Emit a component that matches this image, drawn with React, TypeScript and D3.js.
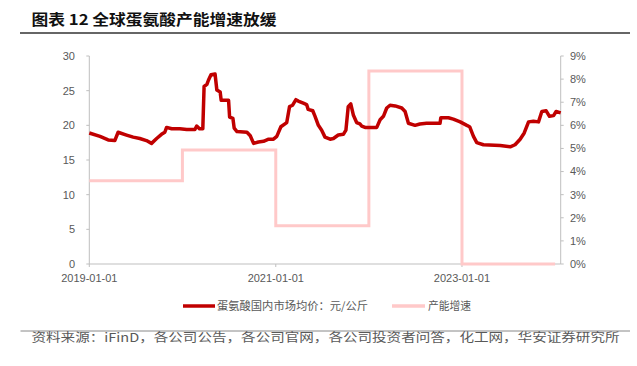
import React from 'react';
import * as d3 from 'd3';

const priceDates = [
  '2019-01-01','2019-02-12','2019-03-16','2019-04-11','2019-04-24','2019-05-27','2019-06-22','2019-07-18',
  '2019-08-13','2019-09-02','2019-09-22','2019-10-11','2019-10-24','2019-10-31','2019-11-20','2019-12-22',
  '2020-01-18','2020-02-19','2020-02-26','2020-03-08','2020-03-21','2020-03-26','2020-04-06','2020-04-12',
  '2020-04-22','2020-05-08','2020-05-15','2020-05-28','2020-06-01','2020-06-30','2020-07-04','2020-07-17',
  '2020-07-22','2020-08-02','2020-09-10','2020-09-23','2020-10-06','2020-10-25','2020-11-14','2020-12-04',
  '2020-12-23','2021-01-05','2021-01-21','2021-02-13','2021-02-24','2021-03-08','2021-03-21','2021-03-30',
  '2021-04-19','2021-05-02','2021-05-08','2021-05-26','2021-06-04','2021-06-17','2021-06-30','2021-07-13',
  '2021-08-02','2021-08-15','2021-09-03','2021-09-23','2021-10-03','2021-10-12','2021-10-22','2021-11-01',
  '2021-11-14','2021-11-27','2021-12-04','2021-12-17','2022-02-01','2022-02-14','2022-02-27','2022-03-12',
  '2022-03-25','2022-04-14','2022-05-10','2022-05-23','2022-06-05','2022-07-01','2022-07-20','2022-08-15',
  '2022-10-07','2022-10-10','2022-11-09','2022-11-28','2022-12-25','2023-01-20','2023-01-31','2023-02-15',
  '2023-02-28','2023-03-26','2023-05-31','2023-07-09','2023-07-28','2023-08-17','2023-09-02','2023-09-19',
  '2023-10-08','2023-10-28','2023-11-10','2023-11-27','2023-12-10','2023-12-26','2024-01-05','2024-01-23'
];
const priceValues = [
  18.9, 18.4, 17.9, 17.8, 19.0, 18.6, 18.3, 18.1,
  17.8, 17.4, 18.1, 18.7, 19.0, 19.7, 19.5, 19.5,
  19.4, 19.4, 19.9, 19.5, 19.5, 25.6, 25.9, 26.5,
  27.3, 27.4, 25.1, 24.8, 23.6, 23.6, 21.2, 21.0,
  19.6, 19.1, 19.0, 18.5, 17.4, 17.6, 17.7, 18.0,
  18.0, 18.4, 19.8, 20.4, 22.7, 22.9, 23.7, 23.5,
  23.2, 23.0, 22.3, 22.1, 21.3, 20.0, 19.3, 18.3,
  18.0, 18.1, 18.6, 18.7, 19.3, 22.7, 23.1, 21.5,
  20.4, 20.2, 19.9, 19.7, 19.7, 20.8, 21.3, 22.5,
  22.9, 22.8, 22.5, 22.0, 20.3, 20.0, 20.2, 20.3,
  20.3, 21.1, 21.1, 20.9, 20.5, 20.0, 19.8, 18.4,
  17.5, 17.2, 17.1, 16.9, 17.2, 18.0, 18.9, 20.5,
  20.6, 20.5, 22.0, 22.1, 21.3, 21.4, 22.0, 21.8
];

const capDates = ['2019-01-01', '2020-01-01', '2021-01-01', '2022-01-01', '2023-01-01', '2024-01-01'];
const capValues = [3.6, 4.93, 1.66, 8.35, 0, 0];

const leftTicks = [0, 5, 10, 15, 20, 25, 30];
const rightTicks = [0, 1, 2, 3, 4, 5, 6, 7, 8, 9];
const xTickLabels = ['2019-01-01', '2021-01-01', '2023-01-01'];

const title = '图表 12 全球蛋氨酸产能增速放缓';
const legendPrice = '蛋氨酸国内市场均价：元/公斤';
const legendCap = '产能增速';
const source = '资料来源：iFinD，各公司公告，各公司官网，各公司投资者问答，化工网，华安证券研究所';

const parse = d3.timeParse('%Y-%m-%d');

export default function App() {
  const W = 637, H = 366;
  const left = 89.3, right = 560.7, top = 56, bottom = 264;
  const x = d3.scaleTime()
    .domain([parse('2019-01-01') as Date, parse('2024-01-23') as Date])
    .range([left, right]);
  const yL = d3.scaleLinear().domain([0, 30]).range([bottom, top]);
  const yR = d3.scaleLinear().domain([0, 9]).range([bottom, top]);

  const priceData = priceDates.map((d, i) => ({ d: parse(d) as Date, v: priceValues[i] }));
  const capData = capDates.map((d, i) => ({ d: parse(d) as Date, v: capValues[i] }));

  const priceLine = d3.line<{ d: Date; v: number }>().x(p => x(p.d)).y(p => yL(p.v));
  const capLine = d3.line<{ d: Date; v: number }>().x(p => x(p.d)).y(p => yR(p.v)).curve(d3.curveStepAfter);

  const axisColor = '#bfbfbf';
  const textColor = '#595959';
  const latin = '"Liberation Sans", Arial, sans-serif';
  const cjk = '"Noto Sans CJK SC", sans-serif';

  return (
    <svg width={W} height={H} style={{ position: 'absolute', left: 0, top: 0, background: '#fff' }}>
      <rect x={0} y={0} width={W} height={H} fill="#fff" />
      <text x={31.5} y={25} fontFamily={cjk} fontWeight={700} fontSize={15} fill="#111"
        textLength={245} lengthAdjust="spacingAndGlyphs">{title}</text>
      <line x1={20} x2={630} y1={33} y2={33} stroke="#333" strokeWidth={1.5} />

      {/* left axis */}
      <line x1={left} x2={left} y1={top} y2={bottom} stroke={axisColor} strokeWidth={1} />
      {leftTicks.map(t => (
        <g key={'l' + t}>
          <line x1={left - 3} x2={left} y1={yL(t)} y2={yL(t)} stroke={axisColor} />
          <text x={75} y={yL(t)} dy="0.35em" textAnchor="end" fontFamily={latin} fontSize={11} fill={textColor}>{t}</text>
        </g>
      ))}
      {/* right axis */}
      <line x1={right} x2={right} y1={top} y2={bottom} stroke={axisColor} strokeWidth={1} />
      {rightTicks.map(t => (
        <g key={'r' + t}>
          <line x1={right} x2={right + 3} y1={yR(t)} y2={yR(t)} stroke={axisColor} />
          <text x={570} y={yR(t)} dy="0.35em" textAnchor="start" fontFamily={latin} fontSize={11} fill={textColor}>{t + '%'}</text>
        </g>
      ))}
      {/* bottom axis */}
      <line x1={left} x2={right} y1={bottom} y2={bottom} stroke={axisColor} strokeWidth={1} />
      {xTickLabels.map(t => {
        const px = x(parse(t) as Date);
        return (
          <g key={t}>
            <line x1={px} x2={px} y1={bottom} y2={bottom + 3} stroke={axisColor} />
            <text x={px} y={282} textAnchor="middle" fontFamily={latin} fontSize={11} fill={textColor}>{t}</text>
          </g>
        );
      })}

      <path d={capLine(capData) || ''} fill="none" stroke="#ffc9c9" strokeWidth={3} />
      <path d={priceLine(priceData) || ''} fill="none" stroke="#c00000" strokeWidth={3.5} strokeLinejoin="round" />

      {/* legend */}
      <line x1={183} x2={215} y1={306} y2={306} stroke="#c00000" strokeWidth={3.5} />
      <text x={217} y={306} dy="0.35em" fontFamily={cjk} fontSize={11} fill={textColor}
        textLength={151} lengthAdjust="spacingAndGlyphs">{legendPrice}</text>
      <line x1={392} x2={425} y1={306} y2={306} stroke="#ffc9c9" strokeWidth={3.5} />
      <text x={428} y={306} dy="0.35em" fontFamily={cjk} fontSize={11} fill={textColor}
        textLength={43} lengthAdjust="spacingAndGlyphs">{legendCap}</text>

      <line x1={20.5} x2={630} y1={331} y2={331} stroke="#888" strokeWidth={1} />
      <text x={31.5} y={342} fontFamily={cjk} fontSize={12} fill={textColor}
        textLength={588} lengthAdjust="spacingAndGlyphs">{source}</text>
    </svg>
  );
}
